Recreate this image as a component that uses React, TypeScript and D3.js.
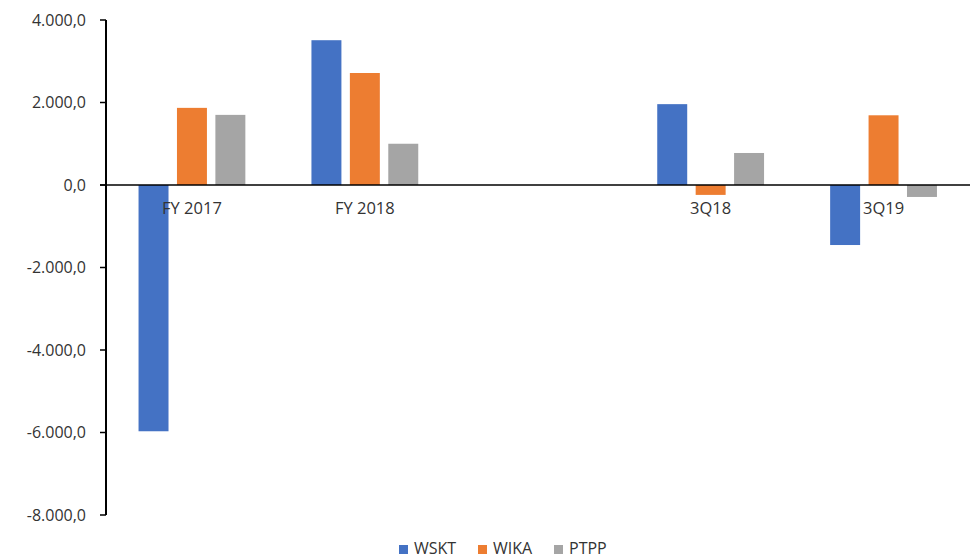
import * as d3 from 'd3';

const CATEGORIES = ['FY 2017', 'FY 2018', '', '3Q18', '3Q19'];
const SERIES = ['WSKT', 'WIKA', 'PTPP'];
const WSKT = [-5970, 3510, null, 1960, -1455];
const WIKA = [1870, 2715, null, -240, 1690];
const PTPP = [1700, 1000, null, 776, -290];
const Y_TICKS = [-8000, -6000, -4000, -2000, 0, 2000, 4000];
const COLORS = ['#4472C4', '#ED7D31', '#A5A5A5'];

const WIDTH = 975;
const HEIGHT = 558;
const FONT = '"Open Sans", sans-serif';

const locale = d3.formatLocale({
  decimal: ',',
  thousands: '.',
  grouping: [3],
  currency: ['', ''],
  minus: '-',
});
const fmt = locale.format(',.1f');

export default function App() {
  const values = [WSKT, WIKA, PTPP];
  const keys = CATEGORIES.map((_, i) => String(i));

  const x = d3.scaleBand().domain(keys).range([105.5, 970]).padding(0);
  const xInner = d3
    .scaleBand()
    .domain(SERIES)
    .range([0, x.bandwidth()])
    .paddingInner(0.22)
    .paddingOuter(0.86);
  const y = d3.scaleLinear().domain([-8000, 4000]).range([515, 20]);
  const y0 = y(0);

  const legendX = [399, 478, 554];

  return (
    <svg
      width={WIDTH}
      height={HEIGHT}
      style={{ position: 'absolute', left: 0, top: 0, background: '#fff' }}
      fontFamily={FONT}
    >
      {/* bars */}
      {SERIES.map((s, si) => (
        <g key={s} fill={COLORS[si]}>
          {values[si].map((v, ci) => {
            if (v == null) return null;
            const bx = x(keys[ci]) + xInner(s);
            return (
              <rect
                key={ci}
                x={bx}
                y={Math.min(y(v), y0)}
                width={xInner.bandwidth()}
                height={Math.abs(y(v) - y0)}
              />
            );
          })}
        </g>
      ))}

      {/* zero line */}
      <line x1={100} x2={970} y1={y0} y2={y0} stroke="#000" strokeWidth={1.5} />

      {/* y axis */}
      <line x1={106} x2={106} y1={y(4000)} y2={y(-8000)} stroke="#000" strokeWidth={2} />
      {Y_TICKS.map((t) => (
        <g key={t}>
          <line x1={100} x2={106} y1={y(t)} y2={y(t)} stroke="#000" strokeWidth={1.5} />
          <text
            x={86}
            y={y(t)}
            dy="0.36em"
            textAnchor="end"
            fontSize={16}
            fill="#333"
          >
            {fmt(t)}
          </text>
        </g>
      ))}

      {/* category labels */}
      {CATEGORIES.map((c, i) => (
        <text
          key={i}
          x={x(keys[i]) + x.bandwidth() / 2}
          y={214}
          textAnchor="middle"
          fontSize={16.5}
          fill="#333"
        >
          {c}
        </text>
      ))}

      {/* legend */}
      {SERIES.map((s, i) => (
        <g key={s}>
          <rect x={legendX[i]} y={545} width={9} height={9} fill={COLORS[i]} />
          <text x={legendX[i] + 15} y={554} fontSize={16} fill="#333">
            {s}
          </text>
        </g>
      ))}
    </svg>
  );
}
